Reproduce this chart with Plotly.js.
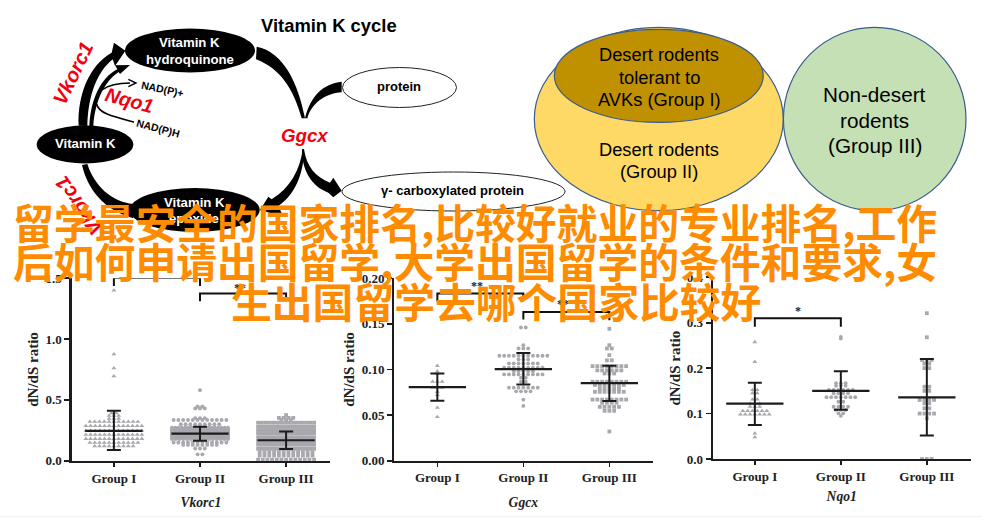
<!DOCTYPE html>
<html><head><meta charset="utf-8">
<script src="https://cdn.plot.ly/plotly-3.0.1.min.js"></script>
<style>html,body{margin:0;padding:0;background:#fff}#c{width:982px;height:518px}</style></head>
<body><div id="c"></div>
<script>
// ---------- data ----------
const categories = ['Group I','Group II','Group III'];
const genes = ['Vkorc1','Ggcx','Nqo1'];
const bannerLines = ['留学最安全的国家排名,比较好就业的专业排名,工作','后如何申请出国留学,大学出国留学的条件和要求,女','生出国留学去哪个国家比较好'];

// each swarm: dN/dS levels and how many animals sit on each level
const vkGroup1Levels = [1.40,0.875,0.76,0.695,0.39,0.37,0.345,0.32,0.285,0.247,0.214,0.18,0.148,0.12,0.09];
const vkGroup1Counts = [1,1,1,1,2,3,3,11,13,13,13,13,11,9,1];
const vkGroup2Levels = [0.58,0.445,0.43,0.35,0.334,0.30,0.272,0.258,0.244,0.233,0.222,0.211,0.20,0.189,0.178,0.15,0.13,0.10,0.052];
const vkGroup2Counts = [1,2,3,3,12,9,18,20,22,24,26,24,22,20,16,12,8,3,2];
const vkGroup3Levels = [0.375,0.352,0.338,0.312,0.278,0.25,0.222,0.188,0.16,0.132,0.098,0.07,0.042,0.008];
const vkGroup3Counts = [1,4,3,17,20,22,24,24,24,22,18,12,12,13];
const ggGroup1Levels = [0.104,0.098,0.0955,0.0865,0.08,0.0755,0.072,0.058,0.048];
const ggGroup1Counts = [1,1,1,3,3,1,1,1,1];
const ggGroup2Levels = [0.146,0.1266,0.123,0.115,0.111,0.1066,0.102,0.098,0.0945,0.091,0.0865,0.08,0.076,0.067,0.06];
const ggGroup2Counts = [2,1,3,11,3,7,9,5,9,2,2,7,4,1,1];
const ggGroup3Levels = [0.1445,0.1266,0.123,0.1157,0.11,0.1036,0.099,0.0956,0.0865,0.083,0.079,0.0755,0.067,0.0635,0.059,0.0547,0.032];
const ggGroup3Counts = [1,1,2,1,2,8,6,3,8,7,5,7,8,4,5,3,1];
const nqGroup1Levels = [0.2575,0.214,0.152,0.145,0.131,0.122,0.115,0.106,0.098,0.0565,0.048];
const nqGroup1Counts = [1,1,2,2,2,3,3,6,7,1,1];
const nqGroup2Levels = [0.269,0.265,0.167,0.161,0.152,0.1445,0.136,0.126,0.115,0.108,0.1005,0.095];
const nqGroup2Counts = [1,1,3,3,6,4,7,2,4,3,2,1];
const nqGroup3Levels = [0.321,0.268,0.218,0.21,0.2,0.159,0.15,0.13,0.1225,0.1115,0.1,0.0895,0];
const nqGroup3Counts = [1,1,3,2,2,2,2,4,2,2,4,1,3];

const vkMeans = [0.245,0.222,0.168], vkUpper = [0.41,0.28,0.24],  vkLower = [0.088,0.165,0.096];
const ggMeans = [0.0807,0.1004,0.085], ggUpper = [0.0956,0.118,0.104], ggLower = [0.0657,0.0836,0.0653];
const nqMeans = [0.122,0.150,0.1357], nqUpper = [0.168,0.193,0.22], nqLower = [0.075,0.1086,0.052];

const vkTicks = [0,0.5,1.0,1.5], ggTicks = [0,0.05,0.10,0.15,0.20], nqTicks = [0,0.1,0.2,0.3,0.4];

// ---------- layout helpers ----------
const W=982,H=518, GREY='#a8a8ae', INK='#1c1c1c', MAXHALF=28;
const SYMS=['triangle-up','circle','square'];
function swarm(levels,counts,group,stepPx,pxPerCat){
  const x=[],y=[];
  levels.forEach((v,i)=>{const n=counts[i];const s=n>1?Math.min(stepPx,2*MAXHALF/(n-1)):stepPx;
    for(let k=0;k<n;k++){x.push(group+(k-(n-1)/2)*s/pxPerCat);y.push(v);}});
  return {x,y};
}
const panels=[
 {ax:'',  l:[71.7,330],  t:278.2,b:460.7, xr:[-0.49,2.51], yr:[0,1.5],  ticks:vkTicks, fmt:'.1f', gene:genes[0],so:13,sz:[4.4,3.9,3.8],
  sets:[[vkGroup1Levels,vkGroup1Counts],[vkGroup2Levels,vkGroup2Counts],[vkGroup3Levels,vkGroup3Counts]],
  m:vkMeans,u:vkUpper,d:vkLower,lw:2.4},
 {ax:'2', l:[394,652.7], t:278.2,b:460.7, xr:[-0.504,2.504],yr:[0,0.2],ticks:ggTicks, fmt:'.2f', gene:genes[1],so:13,sz:[4.4,3.8,3.8],
  sets:[[ggGroup1Levels,ggGroup1Counts],[ggGroup2Levels,ggGroup2Counts],[ggGroup3Levels,ggGroup3Counts]],
  m:ggMeans,u:ggUpper,d:ggLower,lw:2},
 {ax:'3', l:[712.7,970.7],t:277.3,b:459,  xr:[-0.49,2.51], yr:[0,0.4],  ticks:nqTicks, fmt:'.1f', gene:genes[2],so:9,sz:[4.4,3.8,3.8],
  sets:[[nqGroup1Levels,nqGroup1Counts],[nqGroup2Levels,nqGroup2Counts],[nqGroup3Levels,nqGroup3Counts]],
  m:nqMeans,u:nqUpper,d:nqLower,lw:2}
];
const layout={width:W,height:H,margin:{l:0,r:0,t:0,b:0,pad:0},paper_bgcolor:'#fff',plot_bgcolor:'rgba(0,0,0,0)',showlegend:false,
  shapes:[],annotations:[],
  xaxis4:{domain:[0,1],range:[0,W],visible:false,anchor:'y4',fixedrange:true},
  yaxis4:{domain:[0,1],range:[H,0],visible:false,anchor:'x4',fixedrange:true}};
const serif='"Liberation Serif", serif', sans='"Liberation Sans", Arial, sans-serif';
const traces=[{x:[],y:[],xaxis:'x4',yaxis:'y4',type:'scatter',hoverinfo:'skip'}];
panels.forEach(p=>{
  const xa='x'+p.ax,ya='y'+p.ax;
  layout['xaxis'+p.ax]={domain:[p.l[0]/W,p.l[1]/W],range:p.xr,anchor:ya,tickmode:'array',tickvals:[0,1,2],ticktext:categories,
    ticks:'outside',ticklen:4,tickwidth:1.6,tickcolor:INK,showline:true,linecolor:INK,linewidth:p.lw,showgrid:false,zeroline:false,
    tickfont:{family:serif,size:13,color:'#222',weight:700},
    title:{text:'<i>'+p.gene+'</i>',font:{family:serif,size:13.6,color:'#222',weight:700},standoff:p.so}};
  layout['yaxis'+p.ax]={domain:[1-p.b/H,1-p.t/H],range:p.yr,anchor:xa,tickmode:'array',tickvals:p.ticks,tickformat:p.fmt,
    ticks:'outside',ticklen:5,tickwidth:1.6,tickcolor:INK,showline:true,linecolor:INK,linewidth:p.lw,showgrid:false,zeroline:false,
    tickfont:{family:serif,size:13,color:'#222',weight:700},
    title:{text:'dN/dS ratio',font:{family:serif,size:15,color:'#222',weight:700},standoff:3}};
  p.sets.forEach((s,g)=>{
    const pxPerCat=(p.l[1]-p.l[0])/(p.xr[1]-p.xr[0]);
    const pts=swarm(s[0],s[1],g,4.8,pxPerCat);
    traces.push({type:'scatter',mode:'markers',x:pts.x,y:pts.y,xaxis:xa,yaxis:ya,cliponaxis:false,hoverinfo:'skip',
      marker:{symbol:SYMS[g],size:p.sz[g],color:GREY,line:{width:0}}});
  });
  traces.push({type:'scatter',mode:'markers',x:[0,1,2],y:p.m,xaxis:xa,yaxis:ya,cliponaxis:false,hoverinfo:'skip',
    marker:{size:1,color:INK},
    error_x:{type:'constant',value:0.333,width:0,thickness:2.2,color:INK},
    error_y:{type:'data',symmetric:false,array:p.u.map((v,i)=>v-p.m[i]),arrayminus:p.m.map((v,i)=>v-p.d[i]),width:7,thickness:2,color:INK}});
});
// significance brackets: group span and bracket heights, in each panel's own units
function bracket(ax,g0,g1,top,legL,legR){
  traces.push({type:'scatter',mode:'lines',x:[g0,g0,g1,g1],y:[legL,top,top,legR],xaxis:'x'+ax,yaxis:'y'+ax,cliponaxis:false,hoverinfo:'skip',
    line:{color:'#111',width:2}});
}
function star(ax,x,y,t){layout.annotations.push({xref:'x'+ax,yref:'y'+ax,x,y,text:t,showarrow:false,xanchor:'center',yanchor:'middle',
  font:{family:serif,size:12,color:'#222',weight:700}});}
bracket('',0,2,1.627,1.58,1.58); star('',1,1.665,'***');
bracket('',0,1,1.504,1.435,1.435); star('',0.5,1.54,'**');
bracket('',1,2,1.375,1.31,1.32); star('',1.47,1.42,'**');
bracket('2',0,1,0.1832,0.1748,0.1748); star('2',0.458,0.192,'**');
bracket('2',1,2,0.163,0.1547,0.154); star('2',1.465,0.172,'**');
bracket('3',0,1,0.310,0.291,0.291); star('3',0.5,0.325,'*');

// ---------- diagram (page pixel coordinates) ----------
function ell(cx,cy,rx,ry,fill,stroke,w){layout.shapes.push({type:'circle',xref:'x4',yref:'y4',x0:cx-rx,x1:cx+rx,y0:cy-ry,y1:cy+ry,fillcolor:fill,line:{color:stroke,width:w}});}
function z(s){return s.replace(/-?\d+(\.\d+)?/g,m=>(parseFloat(m)/3).toFixed(2));} // paths below traced at 3x
function path(d,fill,stroke,w){layout.shapes.push({type:'path',xref:'x4',yref:'y4',path:z(d),fillcolor:fill||'rgba(0,0,0,0)',line:{color:stroke||'rgba(0,0,0,0)',width:w||0}});}
function txt(x,y,t,size,o={}){layout.annotations.push({xref:'x4',yref:'y4',x,y,text:t,showarrow:false,xanchor:o.a||'center',yanchor:'middle',textangle:o.r||0,
  font:{family:o.f||sans,size,color:o.c||'#000',weight:o.w||400}});}

const B='#000';
path('M236 377 C232 285 268 195 335 158 L342 128 L376 152 L345 198 L338 178 C292 215 264 285 262 378 Z',B);
path('M268 378 C272 300 300 235 352 208 L345 196 L390 195 L360 222 L356 216 C312 245 285 305 280 378 Z',B);
path('M288 312 C283 280 310 250 390 249','',B,1.4);
path('M385 238 L408 249 L385 260','',B,1.4);
path('M290 312 C295 340 340 350 402 366','',B,1.6);
path('M770 140 C850 155 895 250 915 355 L905 355 C880 265 840 205 768 178 Z',B);
path('M1025 245 C970 250 930 290 915 355 L922 355 C935 310 975 280 1025 277 Z',B);
path('M912 448 C920 500 945 530 990 548 L1000 533 L1025 572 L1000 592 L985 578 C935 560 905 510 906 448 Z',B);
path('M912 448 C912 520 885 585 835 618 L850 650 L780 630 L805 590 L815 598 C870 565 900 510 908 448 Z',B);
path('M246 495 C262 565 310 630 400 655 L400 612 C335 605 285 560 262 492 Z',B);
ell(190,50.5,65,22,B,B,0);
ell(85,144.5,48.3,19,B,B,0);
ell(194.7,210,65,22,B,B,0);
ell(399.5,87.5,57,20,'#fff','#222',1);
ell(453.5,191.5,111.5,19.5,'#fff','#222',1);
ell(658.8,119,124.5,91.7,'#FFD966','#3a5c90',1.2);
ell(658.8,75.8,104.5,46.5,'#BF9000','#3a5c90',1.2);
ell(874.7,119,91.3,91.7,'#C5E0B4','#3a5c90',1.2);
layout.shapes.push({type:'line',xref:'x4',yref:'y4',x0:0,x1:W,y0:516.7,y1:516.7,line:{color:'#f1f1f1',width:1}});

txt(329,25,'Vitamin K cycle',18.4,{w:700});
txt(189.5,42.7,'Vitamin K',13.2,{w:700,c:'#fff'});
txt(190,59,'hydroquinone',13.2,{w:700,c:'#fff'});
txt(85,143.3,'Vitamin K',13.2,{w:700,c:'#fff'});
txt(194,202,'Vitamin K',13.2,{w:700,c:'#fff'});
txt(194,218.5,'epoxide',13.2,{w:700,c:'#fff'});
txt(399.3,86.7,'protein',13,{w:700});
txt(452.5,190.5,'γ- carboxylated protein',13,{w:700});
txt(162.7,89.3,'NAD(P)+',10.5,{r:12,w:700});
txt(158,128,'NAD(P)H',10.5,{r:15,w:700});
const RED='#f2000f';
txt(73.3,73.3,'<b><i>Vkorc1</i></b>',20,{r:-64,c:RED});
txt(129,100,'<b><i>Nqo1</i></b>',19.6,{r:15,c:RED});
txt(305.3,135,'<b><i>Ggcx</i></b>',18.7,{c:RED});
txt(79,206,'<b><i>Vkorc1</i></b>',20,{r:-125,c:RED});

txt(659,54.7,'Desert rodents',18.3);
txt(659,77,'tolerant to',18.3);
txt(659,99.7,'AVKs (Group I)',18.3);
txt(659,149,'Desert rodents',18.3);
txt(659,171,'(Group II)',18.3);
txt(874.7,94.3,'Non-desert',20.7);
txt(874.7,120,'rodents',20.7);
txt(874.7,145,'(Group III)',20.7);

// overlaid caption
const cjk='"Noto Sans CJK SC", sans-serif';
txt(11,221,bannerLines[0],40.8,{a:'left',f:cjk,c:'#FF8C00',w:700});
txt(11,260,bannerLines[1],40.8,{a:'left',f:cjk,c:'#FF8C00',w:700});
txt(229,300,bannerLines[2],40.8,{a:'left',f:cjk,c:'#FF8C00',w:700});

Plotly.newPlot('c',traces,layout,{displayModeBar:false,staticPlot:true});
</script></body></html>
